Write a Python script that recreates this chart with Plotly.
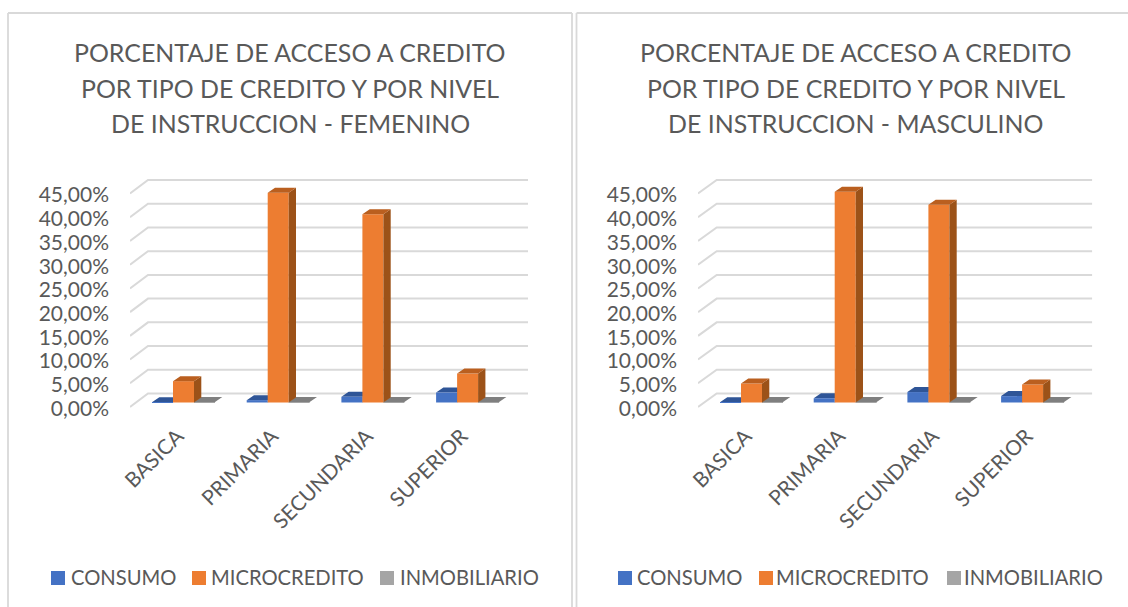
import plotly.graph_objects as go

W, H = 1128, 607
FONT = "Lato"
GREY = "#595959"
GRID = "#D9D9D9"

categories = ["BASICA", "PRIMARIA", "SECUNDARIA", "SUPERIOR"]
series_names = ["CONSUMO", "MICROCREDITO", "INMOBILIARIO"]

fem_consumo = [0.05, 0.5, 1.2, 2.1]
fem_micro = [4.5, 44.2, 39.7, 6.1]
fem_inmob = [0.1, 0.1, 0.1, 0.1]

mas_consumo = [0.05, 0.9, 2.2, 1.35]
mas_micro = [4.0, 44.4, 41.7, 3.8]
mas_inmob = [0.1, 0.1, 0.1, 0.1]

tick_values = [0, 5, 10, 15, 20, 25, 30, 35, 40, 45]
tick_labels = ["0,00%", "5,00%", "10,00%", "15,00%", "20,00%", "25,00%", "30,00%", "35,00%", "40,00%", "45,00%"]

title_fem = ["PORCENTAJE DE ACCESO A CREDITO", "POR TIPO DE CREDITO Y POR NIVEL", "DE INSTRUCCION - FEMENINO"]
title_mas = ["PORCENTAJE DE ACCESO A CREDITO", "POR TIPO DE CREDITO Y POR NIVEL", "DE INSTRUCCION - MASCULINO"]

front_colors = ["#4472C4", "#ED7D31", "#A5A5A5"]
top_colors = ["#2F5597", "#BA5F1F", "#7F7F7F"]
side_colors = ["#2F5597", "#9C5218", "#7F7F7F"]

# layout constants, in pixels of the 1128x607 page
PX_PER_UNIT = 4.744
Y_ZERO = 402.5
Y_TOP, Y_BOTTOM = 170.0, 410.0
BAR_DX, BAR_DY = 7.3, 5.0
GRID_BACK_UP, GRID_FRONT_DOWN = 9.0, 4.5
LABEL_DOWN = 6.0
BAR_PX = 21.0

panels = [
    dict(vals=[fem_consumo, fem_micro, fem_inmob], title=title_fem, cx0=183.5, step=94.7,
         left=130.0, back=148.0, right=528.0, title_x=290.0,
         legend_sw=[51, 192, 380], legend_tx=[69, 209, 398], ax=("x", "y", "x3", "y3")),
    dict(vals=[mas_consumo, mas_micro, mas_inmob], title=title_mas, cx0=751.5, step=93.7,
         left=698.0, back=716.7, right=1092.3, title_x=856.0,
         legend_sw=[618, 759, 947], legend_tx=[635, 774, 962], ax=("x2", "y2", "x4", "y4")),
]

fig = go.Figure()
layout_axes = {}
shapes = []
annotations = []


def py(p):
    return 1 - p / H


def px(p):
    return p / W


def axname(a):
    return "xaxis" + a[1:] if a[0] == "x" else "yaxis" + a[1:]


for p in panels:
    xa, ya, xb, yb = p["ax"]
    step = p["step"]
    cat_w = BAR_PX / step
    dx = BAR_DX / step
    dy = BAR_DY / PX_PER_UNIT
    x_range = [(p["left"] - p["cx0"]) / step, (p["right"] - p["cx0"]) / step]
    y_range = [(Y_ZERO - Y_BOTTOM) / PX_PER_UNIT, (Y_ZERO - Y_TOP) / PX_PER_UNIT]
    front_off = -GRID_FRONT_DOWN / PX_PER_UNIT
    back_off = GRID_BACK_UP / PX_PER_UNIT
    label_off = -LABEL_DOWN / PX_PER_UNIT
    x_domain = [px(p["left"]), px(p["right"])]
    y_domain = [py(Y_BOTTOM), py(Y_TOP)]
    xpos = list(range(len(categories)))

    # gridlines: front stub, then along the back wall
    gx, gy = [], []
    xl, xbk = x_range[0], (p["back"] - p["cx0"]) / step
    for v in tick_values:
        gx += [xl, xbk, x_range[1], None]
        gy += [v + front_off, v + back_off, v + back_off, None]
    fig.add_trace(go.Scatter(x=gx, y=gy, mode="lines", line=dict(color=GRID, width=2),
                             hoverinfo="skip", showlegend=False, xaxis=xa, yaxis=ya))

    # depth faces of the low series sit below the bars layer
    def faces(vals, k):
        tx, ty, sx, sy = [], [], [], []
        for i, v in enumerate(vals):
            x0 = i + (k - 1) * cat_w - cat_w / 2
            x1 = x0 + cat_w
            tx += [x0, x1, x1 + dx, x0 + dx, x0, None]
            ty += [v, v, v + dy, v + dy, v, None]
            sx += [x1, x1 + dx, x1 + dx, x1, x1, None]
            sy += [0, dy, v + dy, v, 0, None]
        return tx, ty, sx, sy

    for k in (2, 0):
        tx, ty, sx, sy = faces(p["vals"][k], k)
        fig.add_trace(go.Scatter(x=sx, y=sy, mode="lines", fill="toself", line=dict(width=0),
                                 fillcolor=side_colors[k], hoverinfo="skip", showlegend=False, xaxis=xa, yaxis=ya))
        fig.add_trace(go.Scatter(x=tx, y=ty, mode="lines", fill="toself", line=dict(width=0),
                                 fillcolor=top_colors[k], hoverinfo="skip", showlegend=False, xaxis=xa, yaxis=ya))

    # front faces
    for k, name in enumerate(series_names):
        fig.add_trace(go.Bar(x=xpos, y=p["vals"][k], name=name, marker=dict(color=front_colors[k], line=dict(width=0)),
                             width=cat_w, offset=(k - 1) * cat_w - cat_w / 2,
                             showlegend=False, xaxis=xb, yaxis=yb))

    # tall series depth faces sit above the bars
    tx, ty, sx, sy = faces(p["vals"][1], 1)
    fig.add_trace(go.Scatter(x=sx, y=sy, mode="lines", fill="toself", line=dict(width=0),
                             fillcolor=side_colors[1], hoverinfo="skip", showlegend=False, xaxis=xb, yaxis=yb))
    fig.add_trace(go.Scatter(x=tx, y=ty, mode="lines", fill="toself", line=dict(width=0),
                             fillcolor=top_colors[1], hoverinfo="skip", showlegend=False, xaxis=xb, yaxis=yb))

    layout_axes[axname(xa)] = dict(domain=x_domain, range=x_range, anchor=ya, showgrid=False, zeroline=False,
                                   showline=False, tickmode="array", tickvals=xpos, ticktext=categories,
                                   tickangle=-45, ticks="", ticklabelstandoff=9, ticklabelshift=-6, automargin=False,
                                   tickfont=dict(family=FONT, size=20.8, color=GREY))
    layout_axes[axname(ya)] = dict(domain=y_domain, range=y_range, anchor=xa, showgrid=False, zeroline=False,
                                   showline=False, tickmode="array",
                                   tickvals=[v + label_off for v in tick_values], ticktext=tick_labels,
                                   ticks="", ticklabelstandoff=20, automargin=False,
                                   tickfont=dict(family=FONT, size=21, color=GREY))
    layout_axes[axname(xb)] = dict(domain=x_domain, range=x_range, overlaying=xa, anchor=yb, visible=False, automargin=False)
    layout_axes[axname(yb)] = dict(domain=y_domain, range=y_range, overlaying=ya, anchor=xb, visible=False, automargin=False)

    # titles
    for line, yc in zip(p["title"], (52, 88, 123)):
        annotations.append(dict(text=line, xref="paper", yref="paper", x=px(p["title_x"]), y=py(yc),
                                xanchor="center", yanchor="middle", showarrow=False,
                                font=dict(family=FONT, size=24.9, color=GREY)))
    # legend
    for k, name in enumerate(series_names):
        sw = p["legend_sw"][k]
        shapes.append(dict(type="rect", xref="paper", yref="paper", x0=px(sw), x1=px(sw + 14),
                           y0=py(585), y1=py(571), fillcolor=front_colors[k], line=dict(width=0)))
        annotations.append(dict(text=name, xref="paper", yref="paper", x=px(p["legend_tx"][k]), y=py(577),
                                xanchor="left", yanchor="middle", showarrow=False,
                                font=dict(family=FONT, size=20.2, color=GREY)))

# panel frames
for x0, y0, x1, y1 in [(8, 607, 8, 13), (8, 13, 572, 13), (572, 13, 572, 607),
                       (576.5, 607, 576.5, 13), (576.5, 13, 1128, 13)]:
    shapes.append(dict(type="line", xref="paper", yref="paper", x0=px(x0), x1=px(x1), y0=py(y0), y1=py(y1),
                       line=dict(color=GRID, width=1.8)))

fig.update_layout(width=W, height=H, margin=dict(l=0, r=0, t=0, b=0, autoexpand=False), paper_bgcolor="white",
                  plot_bgcolor="rgba(0,0,0,0)", barmode="overlay", showlegend=False, shapes=shapes,
                  annotations=annotations, font=dict(family=FONT, color=GREY), **layout_axes)

fig.write_html("out.html", config=dict(displayModeBar=False),
               post_script="document.body.style.margin='0';document.body.style.overflow='hidden';")
